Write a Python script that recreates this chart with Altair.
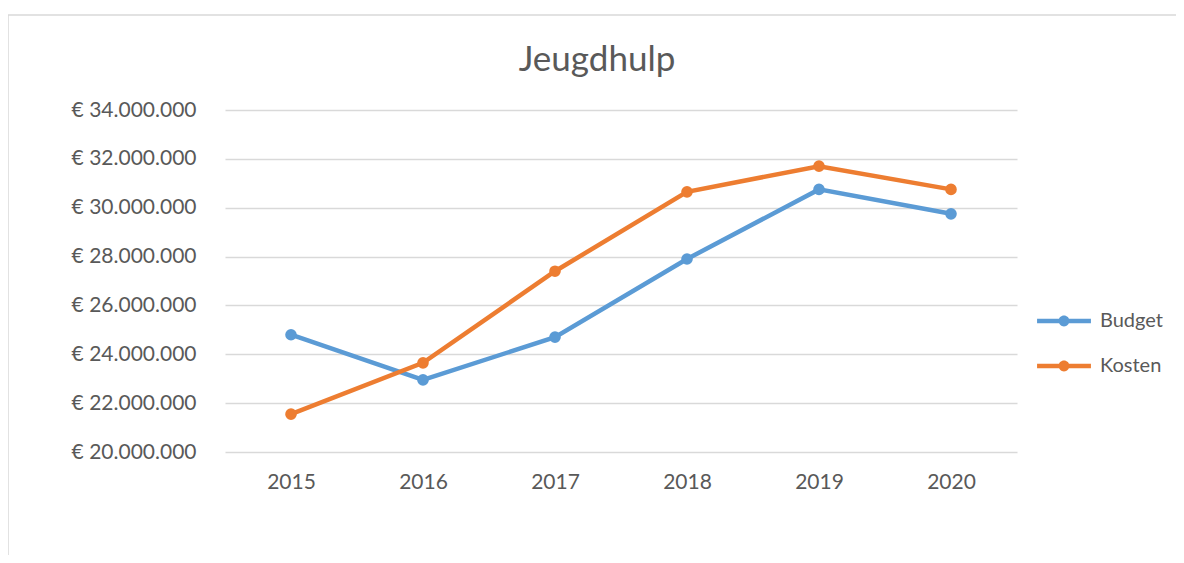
import altair as alt
import pandas as pd

years = ["2015", "2016", "2017", "2018", "2019", "2020"]
budget = [24800000, 22950000, 24700000, 27900000, 30750000, 29750000]
kosten = [21550000, 23650000, 27400000, 30650000, 31700000, 30750000]
series_names = ["Budget", "Kosten"]
series_colors = ["#5B9BD5", "#ED7D31"]
y_ticks = [20000000, 22000000, 24000000, 26000000, 28000000, 30000000, 32000000, 34000000]
chart_title = "Jeugdhulp"

rows = []
for name, vals in zip(series_names, [budget, kosten]):
    for yr, v in zip(years, vals):
        rows.append({"Jaar": yr, "Reeks": name, "Bedrag": v})
df = pd.DataFrame(rows)

FONT = "Lato"
GREY = "#595959"

x_enc = alt.X("Jaar:N", sort=years,
              scale=alt.Scale(type="point", padding=0.5),
              axis=alt.Axis(title=None, labelAngle=0, domain=False, ticks=False,
                            grid=False, labelPadding=19, labelFontSize=21,
                            labelColor=GREY, labelFont=FONT))
y_enc = alt.Y("Bedrag:Q",
              scale=alt.Scale(domain=[20000000, 34000000], nice=False, zero=False),
              axis=alt.Axis(title=None, values=y_ticks, domain=False, ticks=False,
                            grid=True, gridColor="#D9D9D9", gridWidth=1.5,
                            labelPadding=29, labelFontSize=21, labelColor=GREY,
                            labelFont=FONT,
                            labelExpr="'€ ' + replace(format(datum.value, ',d'), regexp(',', 'g'), '.')"))
color_scale = alt.Scale(domain=series_names, range=series_colors)

lines = alt.Chart(df).mark_line(strokeWidth=4.5).encode(
    x=x_enc, y=y_enc,
    color=alt.Color("Reeks:N", scale=color_scale, legend=None),
)

sym = ("M-1,-0.085 L1,-0.085 L1,0.085 L-1,0.085 Z "
       "M-0.2,0 A0.2,0.2 0 1,1 0.2,0 A0.2,0.2 0 1,1 -0.2,0 Z")

points = alt.Chart(df).mark_circle(size=135, opacity=1).encode(
    x=x_enc, y=y_enc,
    color=alt.Color("Reeks:N", scale=color_scale,
                    legend=alt.Legend(title=None, orient="none", legendX=811, legendY=183,
                                      symbolType=sym, symbolSize=2900, symbolOpacity=1,
                                      labelFont=FONT, labelFontSize=20, labelColor=GREY,
                                      labelOffset=8, rowPadding=7)),
)

frame_df = pd.DataFrame({"k": [0]})
top_border = alt.Chart(frame_df).mark_rule(color="#D9D9D9", strokeWidth=1.5).encode(
    x=alt.value(-217), x2=alt.value(970), y=alt.value(-95))
left_border = alt.Chart(frame_df).mark_rule(color="#D9D9D9", strokeWidth=1.5).encode(
    x=alt.value(-217), y=alt.value(-95), y2=alt.value(460))
title_df = pd.DataFrame({"t": [chart_title]})
title_text = alt.Chart(title_df).mark_text(
    font=FONT, fontSize=35, color=GREY, align="center", baseline="alphabetic"
).encode(text="t:N", x=alt.value(372), y=alt.value(-39))

chart = alt.layer(top_border, left_border, title_text, lines, points).resolve_legend(
    color="independent"
).properties(
    width=792, height=342,
    padding={"left": 217, "top": 102, "right": 159, "bottom": 103},
    autosize=alt.AutoSizeParams(type="none"),
).configure(background="white").configure_view(stroke=None)

chart.save("out.html", embed_options={"renderer": "svg", "actions": False})
